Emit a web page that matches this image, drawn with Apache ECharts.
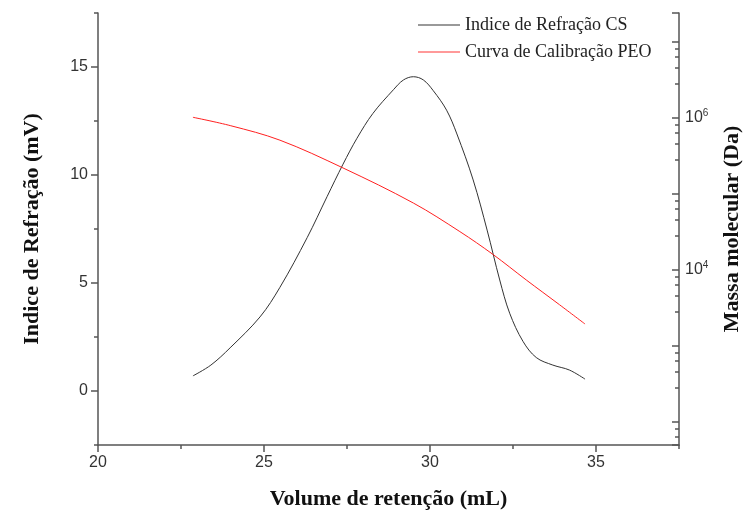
<!DOCTYPE html>
<html>
<head>
<meta charset="utf-8">
<script src="https://cdn.jsdelivr.net/npm/echarts@6/dist/echarts.min.js"></script>
<style>
  html, body { margin: 0; padding: 0; background: #fff; }
  #chart { width: 744px; height: 515px; }
</style>
</head>
<body>
<div id="chart"></div>
<script>
// Indice de Refração CS (mV) vs volume de retenção (mL)
const riVolume = [22.86, 23.4, 23.98, 24.88, 25.48, 26.3, 26.9, 27.38, 27.8, 28.28, 28.9, 29.2, 29.5, 29.8, 30.1, 30.5, 30.81, 31.3, 31.72, 32.1, 32.4, 32.8, 33.2, 33.7, 34.2, 34.67];
const riSignal = [0.7, 1.2, 2.0, 3.43, 4.8, 7.1, 9.0, 10.5, 11.7, 12.85, 13.95, 14.4, 14.55, 14.4, 13.9, 13.0, 11.9, 9.77, 7.45, 5.14, 3.6, 2.3, 1.55, 1.2, 0.97, 0.55];

// Curva de Calibração PEO (Da)
const calVolume = [22.86, 24.0, 25.48, 27.38, 29.5, 30.9, 31.9, 32.9, 33.9, 34.67];
const calMass = [1.02e6, 7.9e5, 5.1e5, 2.2e5, 7.6e4, 3.2e4, 1.6e4, 7400, 3500, 1950];

// tick labels
const xTickLabels = [20, 25, 30, 35];
const yTickLabels = [0, 5, 10, 15];
const massLabelExponents = [4, 6];

const chart = echarts.init(document.getElementById("chart"));

const axisLineStyle = { color: "#555", width: 1.5 };
const tickFont = { fontFamily: "Liberation Sans", fontSize: 16, color: "#333" };
const titleFont = { fontFamily: "Liberation Serif", fontSize: 22, fontWeight: "bold", color: "#111" };

// short ticks every 2.5, drawn by a bare overlay axis
const minorAxis = extra => ({
  min: extra.min, max: extra.max, interval: 2.5,
  axisLine: { show: false, onZero: false },
  axisTick: { show: true, length: 4, lineStyle: axisLineStyle },
  axisLabel: { show: false },
  splitLine: { show: false },
  ...extra
});

const option = {
  animation: false,
  backgroundColor: "#fff",
  grid: { left: 98, right: 65, top: 13, bottom: 70, outerBoundsMode: "none", containLabel: false },
  legend: {
    orient: "vertical",
    left: 413,
    top: 11,
    itemWidth: 42,
    itemHeight: 10,
    itemGap: 9,
    icon: "path://M0,4 L42,4 L42,6 L0,6 Z",
    textStyle: { fontFamily: "Liberation Serif", fontSize: 18, color: "#222" },
    data: [
      { name: "Indice de Refração CS", itemStyle: { color: "#999" } },
      { name: "Curva de Calibração PEO", itemStyle: { color: "#f99" } }
    ]
  },
  xAxis: [
    {
      type: "value",
      min: 20,
      max: 37.5,
      interval: 2.5,
      name: "Volume de retenção (mL)",
      nameLocation: "middle",
      nameGap: 43,
      nameTextStyle: titleFont,
      axisLine: { onZero: false, lineStyle: axisLineStyle },
      axisTick: { length: 7, customValues: xTickLabels, lineStyle: axisLineStyle },
      axisLabel: { ...tickFont, margin: 10, customValues: xTickLabels },
      splitLine: { show: false }
    },
    minorAxis({ type: "value", min: 20, max: 37.5, position: "bottom" })
  ],
  yAxis: [
    {
      type: "value",
      min: -2.5,
      max: 17.5,
      interval: 2.5,
      name: "Indice de Refração (mV)",
      nameLocation: "middle",
      nameGap: 55,
      nameTextStyle: titleFont,
      axisLine: { show: true, onZero: false, lineStyle: axisLineStyle },
      axisTick: { show: true, length: 7, customValues: yTickLabels, lineStyle: axisLineStyle },
      axisLabel: { ...tickFont, margin: 10, customValues: yTickLabels },
      splitLine: { show: false }
    },
    {
      type: "log",
      logBase: 10,
      min: 50,
      max: 2.4e7,
      position: "right",
      name: "Massa molecular (Da)",
      nameLocation: "middle",
      nameRotate: 90,
      nameGap: 42,
      nameTextStyle: titleFont,
      axisLine: { show: true, onZero: false, lineStyle: axisLineStyle },
      axisTick: { show: true, inside: true, length: 7, lineStyle: axisLineStyle },
      minorTick: { show: true, inside: true, splitNumber: 5, length: 4, lineStyle: axisLineStyle },
      axisLabel: {
        ...tickFont,
        margin: 6,
        formatter: v => {
          const e = Math.round(Math.log10(v));
          return massLabelExponents.includes(e) ? "10{sup|" + e + "}" : "";
        },
        rich: {
          sup: { fontFamily: "Liberation Sans", fontSize: 10, color: "#333", verticalAlign: "top", padding: [0, 0, 10, 0] }
        }
      },
      splitLine: { show: false }
    },
    minorAxis({ type: "value", min: -2.5, max: 17.5, position: "left" })
  ],
  series: [
    {
      name: "Indice de Refração CS",
      type: "line",
      yAxisIndex: 0,
      smooth: 0.35,
      showSymbol: false,
      lineStyle: { color: "#333", width: 1 },
      itemStyle: { color: "#999" },
      data: riVolume.map((x, i) => [x, riSignal[i]])
    },
    {
      name: "Curva de Calibração PEO",
      type: "line",
      yAxisIndex: 1,
      smooth: 0.35,
      showSymbol: false,
      lineStyle: { color: "#ff2020", width: 1 },
      itemStyle: { color: "#f99" },
      data: calVolume.map((x, i) => [x, calMass[i]])
    }
  ]
};

chart.setOption(option);
</script>
</body>
</html>
